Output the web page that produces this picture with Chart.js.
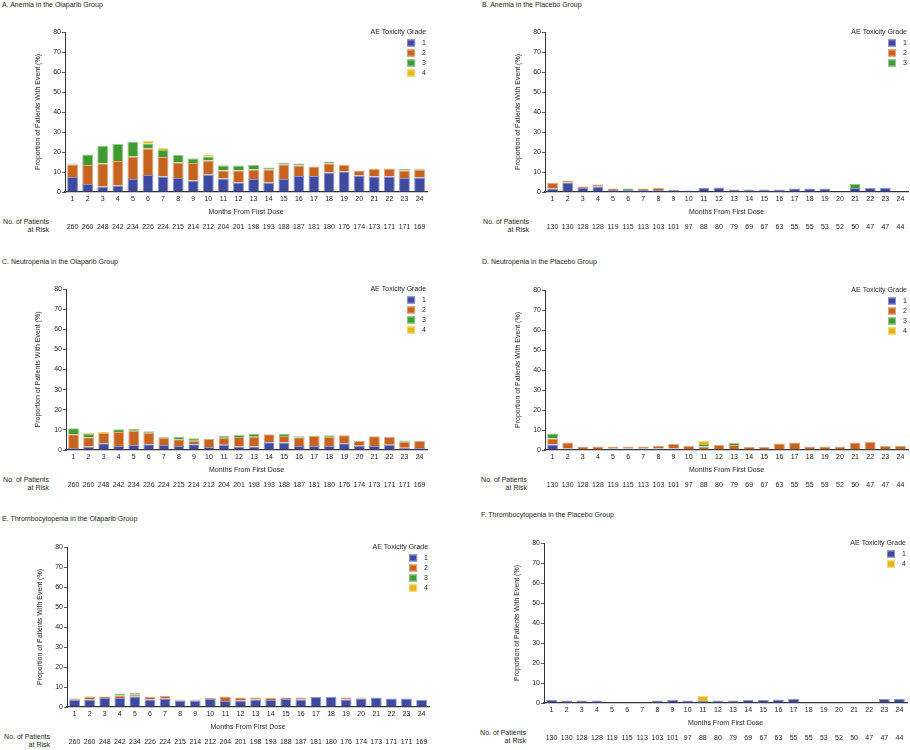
<!DOCTYPE html>
<html>
<head>
<meta charset="utf-8">
<script src="https://cdn.jsdelivr.net/npm/chart.js@4/dist/chart.umd.min.js"></script>
<style>
  body { margin: 0; background: #fff; }
  #page { position: relative; width: 910px; height: 750px; overflow: hidden;
          font-family: "Liberation Sans", Arial, sans-serif; color: #231f20; }
  .ptitle { position: absolute; font-size: 7px; line-height: 10px; white-space: nowrap; }
  .risklbl { position: absolute; width: 80px; font-size: 7px; line-height: 8px; text-align: right; }
  canvas { position: absolute; }
</style>
</head>
<body>
<div id="page"></div>
<script>
// Months and patients at risk
const months = ['1','2','3','4','5','6','7','8','9','10','11','12','13','14','15','16','17','18','19','20','21','22','23','24'];
const atRiskOlaparib = [260,260,248,242,234,226,224,215,214,212,204,201,198,193,188,187,181,180,176,174,173,171,171,169];
const atRiskPlacebo = [130,130,128,128,119,115,113,103,101,97,88,80,79,69,67,63,55,55,53,52,50,47,47,44];

// A. Anemia, olaparib (% by grade)
const anemiaOlaG1 = [7.5,4,2.8,3.3,6.5,8.5,7.7,7,5.7,8.8,6.7,4.7,6.5,4.8,6.5,8,8,9.8,10.2,8.2,7.8,7.8,7,7.2];
const anemiaOlaG2 = [6.2,9.5,11.4,12.2,11.3,13.2,9.8,7.8,8.8,7,4.1,6,4.8,6.4,7.3,5.3,4.8,4.4,3.3,2.5,3.7,4,3.7,4];
const anemiaOlaG3 = [0.5,5.3,8.8,8.5,7.2,2.5,3.5,3.7,2.3,1.9,2.4,2.5,2.2,1.1,0.7,0.9,0,1,0,0,0,0,0.8,0.6];
const anemiaOlaG4 = [0,0,0,0,0,1.3,1,0,0.5,1,0.6,0,0,0,0,0,0,0,0,0,0,0,0,0];

// B. Anemia, placebo
const anemiaPboG1 = [1.7,4.7,2,2.7,1,1,1,1,1,0.7,2,2.3,1.2,1.3,1.2,1.3,1.8,1.8,1.8,0,2,2,2,0];
const anemiaPboG2 = [2.8,1,0.8,1,0.7,0,0.7,1,0,0,0,0,0,0,0,0,0,0,0,0,0,0,0,0];
const anemiaPboG3 = [0,0,0,0,0,0.7,0,0,0,0,0,0,0,0,0,0,0,0,0,0,2,0,0,0];

// C. Neutropenia, olaparib
const neutroOlaG1 = [1,1.8,3.3,2,2.5,2.8,2.5,2,2.8,1.5,2.6,1.8,1.8,3.8,3.7,2,2,2,3.3,2.1,2,2.6,1.1,1];
const neutroOlaG2 = [6.8,4.5,5.2,7,7.1,5.8,3.6,3.3,1.8,4.1,3.5,4.7,4.8,4,3.3,4.3,5.1,4.6,4,2.4,4.8,3.9,3,3.5];
const neutroOlaG3 = [3,1.7,0,1.3,1,0.7,0.4,1.3,1.2,0,0.9,1,1.4,0,1,0.5,0,0.7,0,0,0,0,0.6,0];
const neutroOlaG4 = [0,0.5,0.5,0,0,0,0,0,0,0,0,0,0,0,0,0,0,0,0,0,0,0,0,0];

// D. Neutropenia, placebo
const neutroPboG1 = [2.8,0.8,0,0,0.8,0.8,0.8,0.8,0.8,0,0,0,0,0,0,0,0,0,0,0,0,0,0,0];
const neutroPboG2 = [3,2.9,1.7,1.7,0.9,0.9,0.9,1.2,2.2,2,1.8,2.5,2.5,1.5,1.5,3.2,3.7,1.7,1.7,1.7,3.7,4,2,2];
const neutroPboG3 = [2.4,0,0,0,0,0,0,0,0,0,1.2,0,1,0,0,0,0,0,0,0,0,0,0,0];
const neutroPboG4 = [0,0,0,0,0,0,0,0,0,0,1.5,0,0,0,0,0,0,0,0,0,0,0,0,0];

// E. Thrombocytopenia, olaparib
const thromboOlaG1 = [3.5,3.8,4.5,4.5,5.3,3.8,4.3,3.3,3.3,4,3,3.2,3.8,3.5,4,3.7,5,5,3.7,4.3,4.8,4.2,4.2,3.5];
const thromboOlaG2 = [0.4,1.2,0.8,1.2,1,1.2,1.2,0.5,0.5,0.5,2.2,1.5,0.9,1,0.8,1.1,0,0,1.1,0.5,0,0,0,0];
const thromboOlaG3 = [0.4,0.3,0,1,0.7,0,0,0,0,0,0,0,0,0,0,0,0,0,0,0,0,0,0,0];
const thromboOlaG4 = [0,0,0,0,0,0,0,0,0,0,0,0,0,0,0,0,0,0,0,0,0,0,0,0];

// F. Thrombocytopenia, placebo
const thromboPboG1 = [1.5,1.2,1.2,1.2,0,0,0,1.2,1.5,1.2,1,1.2,1.2,1.5,1.5,1.8,2,0,0,0,0,0,2,2];
const thromboPboG4 = [0,0,0,0,0,0,0,0,0,0,2.5,0,0,0,0,0,0,0,0,0,0,0,0,0];

const yTicks = [0,10,20,30,40,50,60,70,80];

const panels = [
  { title: 'A. Anemia in the Olaparib Group', risk: atRiskOlaparib,
    grades: ['1','2','3','4'], series: [anemiaOlaG1, anemiaOlaG2, anemiaOlaG3, anemiaOlaG4] },
  { title: 'B. Anemia in the Placebo Group', risk: atRiskPlacebo,
    grades: ['1','2','3'], series: [anemiaPboG1, anemiaPboG2, anemiaPboG3] },
  { title: 'C. Neutropenia in the Olaparib Group', risk: atRiskOlaparib,
    grades: ['1','2','3','4'], series: [neutroOlaG1, neutroOlaG2, neutroOlaG3, neutroOlaG4] },
  { title: 'D. Neutropenia in the Placebo Group', risk: atRiskPlacebo,
    grades: ['1','2','3','4'], series: [neutroPboG1, neutroPboG2, neutroPboG3, neutroPboG4] },
  { title: 'E. Thrombocytopenia in the Olaparib Group', risk: atRiskOlaparib,
    grades: ['1','2','3','4'], series: [thromboOlaG1, thromboOlaG2, thromboOlaG3, thromboOlaG4] },
  { title: 'F. Thrombocytopenia in the Placebo Group', risk: atRiskPlacebo,
    grades: ['1','4'], series: [thromboPboG1, thromboPboG4] }
];

// page geometry of each panel: origin x, plot area, y-title x, panel title pos, risk label edge
const boxes = [
  { ox: 0,   L: 65,  T: 32,  R: 429, B: 192, yt: 38,  tx: 2,   ty: 5,   re: 49 },
  { ox: 455, L: 545, T: 32,  R: 908, B: 192, yt: 518, tx: 482, ty: 5,   re: 529 },
  { ox: 0,   L: 66,  T: 289, R: 429, B: 450, yt: 38,  tx: 2,   ty: 262, re: 49 },
  { ox: 455, L: 545, T: 290, R: 908, B: 450, yt: 518, tx: 482, ty: 262, re: 527 },
  { ox: 0,   L: 67,  T: 547, R: 431, B: 707, yt: 40,  tx: 2,   ty: 519, re: 50 },
  { ox: 455, L: 544, T: 543, R: 907, B: 703, yt: 517, tx: 481, ty: 515, re: 526 }
];

const gradeFill = { '1': '#3d4a9f', '2': '#c6631f', '3': '#3f9a31', '4': '#e5b60f' };
const gradeEdge = { '1': '#8d95cd', '2': '#e3a57a', '3': '#92c88a', '4': '#f2d97c' };

const FONT = '"Liberation Sans", Arial, sans-serif';
const INK = '#231f20';
Chart.defaults.font.family = FONT;
Chart.defaults.font.size = 7;
Chart.defaults.color = INK;

// legend drawn inside the plot area, top right
const gradeLegend = {
  id: 'gradeLegend',
  afterDraw(chart) {
    const { ctx, chartArea } = chart;
    const r = chartArea.right, t = chartArea.top;
    ctx.save();
    ctx.font = '7px ' + FONT;
    ctx.textBaseline = 'middle';
    ctx.fillStyle = INK;
    ctx.textAlign = 'right';
    ctx.fillText('AE Toxicity Grade', r - 1, t);
    ctx.textAlign = 'left';
    chart.data.datasets.forEach((ds, i) => {
      const y = t + 11 + 10 * i;
      ctx.fillStyle = ds.backgroundColor;
      ctx.fillRect(r - 20, y - 3.5, 8, 7);
      ctx.strokeStyle = ds.borderColor;
      ctx.lineWidth = 1;
      ctx.strokeRect(r - 19.5, y - 3, 7, 6);
      ctx.fillStyle = INK;
      ctx.fillText(ds.label, r - 5, y);
    });
    ctx.restore();
  }
};

const page = document.getElementById('page');

panels.forEach((p, k) => {
  const b = boxes[k];

  const t = document.createElement('div');
  t.className = 'ptitle';
  t.style.left = b.tx + 'px';
  t.style.top = (b.ty - 5) + 'px';
  t.textContent = p.title;
  page.appendChild(t);

  const rl = document.createElement('div');
  rl.className = 'risklbl';
  rl.style.left = (b.re - 80) + 'px';
  rl.style.top = (b.B + 26) + 'px';
  rl.innerHTML = 'No. of Patients<br>at Risk';
  page.appendChild(rl);

  const cv = document.createElement('canvas');
  cv.width = b.R + 3 - b.ox;
  cv.height = 6 + (b.B - b.T) + 40;
  cv.style.left = b.ox + 'px';
  cv.style.top = (b.T - 6) + 'px';
  page.appendChild(cv);

  new Chart(cv, {
    type: 'bar',
    data: {
      labels: months,
      datasets: p.grades.map((g, i) => ({
        label: g,
        data: p.series[i].map(v => v || null),
        backgroundColor: gradeFill[g],
        borderColor: gradeEdge[g],
        borderWidth: 1,
        categoryPercentage: 1,
        barPercentage: 0.72
      }))
    },
    options: {
      responsive: false,
      animation: false,
      layout: { padding: { top: 6, right: 3, left: 0, bottom: 0 } },
      plugins: { legend: { display: false }, tooltip: { enabled: false } },
      scales: {
        x: {
          stacked: true,
          weight: 0,
          grid: { display: false, drawTicks: false },
          border: { display: true, color: '#333', width: 1.2 },
          ticks: { autoSkip: false, maxRotation: 0, padding: 2.8, color: INK },
          title: { display: true, text: 'Months From First Dose', color: INK, padding: 0 },
          afterFit: s => { s.height = 24; }
        },
        risk: {
          type: 'category',
          position: 'bottom',
          weight: 1,
          labels: p.risk.map(String),
          offset: true,
          grid: { display: false, drawTicks: false },
          border: { display: false },
          ticks: { autoSkip: false, maxRotation: 0, padding: 6.5, color: INK },
          afterFit: s => { s.height = 16; }
        },
        y: {
          stacked: true,
          min: 0,
          max: 80,
          afterBuildTicks: s => { s.ticks = yTicks.map(v => ({ value: v })); },
          grid: { display: true, drawOnChartArea: false, drawTicks: true, tickLength: 3, color: '#333', lineWidth: 0.8 },
          border: { display: true, color: '#333', width: 1 },
          ticks: { padding: 1, color: INK },
          title: { display: true, text: 'Proportion of Patients With Event (%)', color: INK,
                   padding: { top: b.yt - b.ox - 4.2, bottom: 0 } },
          afterFit: s => { s.width = b.L - b.ox; }
        }
      }
    },
    plugins: [gradeLegend]
  });
});
</script>
</body>
</html>
